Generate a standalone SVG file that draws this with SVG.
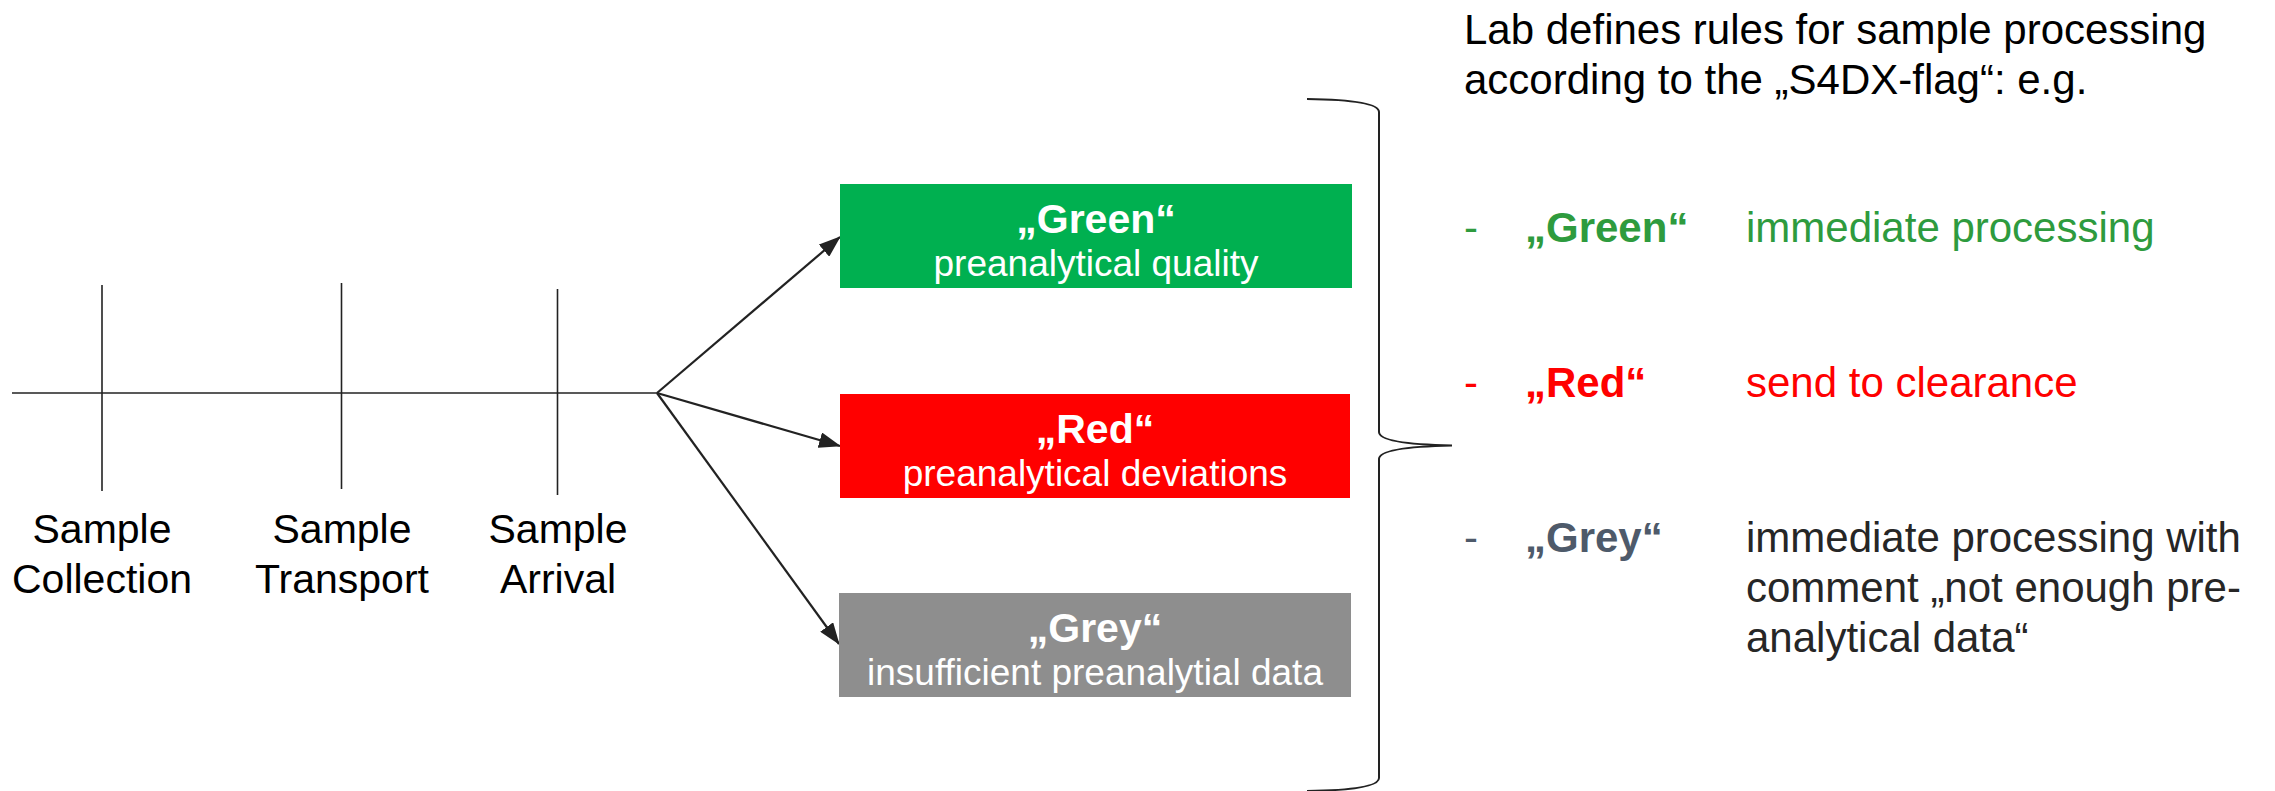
<svg xmlns="http://www.w3.org/2000/svg" width="2275" height="791" viewBox="0 0 2275 791">
<defs>
<marker id="ah" markerUnits="userSpaceOnUse" markerWidth="22" markerHeight="16" viewBox="0 0 22 16" refX="21" refY="8" orient="auto">
<path d="M0,0 L22,8 L0,16 Z" fill="#222"/>
</marker>
<style>
text{font-family:"Liberation Sans",Arial,sans-serif}
.lbl{font-size:41px;fill:#000;text-anchor:middle}
.bt{font-size:41px;font-weight:bold;fill:#fff;text-anchor:middle}
.bs{font-size:37px;fill:#fff;text-anchor:middle}
.rt{font-size:42px}
.tick{stroke:#222;stroke-width:1.6;fill:none}
.conn{stroke:#222;stroke-width:2.2;fill:none}
</style>
</defs>
<rect width="2275" height="791" fill="#fff"/>
<g id="timeline">
<line class="tick" x1="12" y1="393" x2="657" y2="393"/>
<line class="tick" x1="102" y1="285" x2="102" y2="491"/>
<line class="tick" x1="341.5" y1="283" x2="341.5" y2="489"/>
<line class="tick" x1="557.5" y1="289" x2="557.5" y2="495"/>
</g>
<g id="label-collection"><text class="lbl" x="102" y="543">Sample</text><text class="lbl" x="102" y="593">Collection</text></g>
<g id="label-transport"><text class="lbl" x="342" y="543">Sample</text><text class="lbl" x="342" y="593">Transport</text></g>
<g id="label-arrival"><text class="lbl" x="558" y="543">Sample</text><text class="lbl" x="558" y="593">Arrival</text></g>
<g id="connectors">
<line class="conn" x1="657" y1="393" x2="840" y2="237" marker-end="url(#ah)"/>
<line class="conn" x1="657" y1="393" x2="840" y2="446" marker-end="url(#ah)"/>
<line class="conn" x1="657" y1="393" x2="839" y2="644" marker-end="url(#ah)"/>
</g>
<g id="box-green">
<rect x="840" y="184" width="512" height="104" fill="#00B050"/>
<text class="bt" x="1096" y="233">„Green“</text>
<text class="bs" x="1096" y="276">preanalytical quality</text>
</g>
<g id="box-red">
<rect x="840" y="394" width="510" height="104" fill="#FF0000"/>
<text class="bt" x="1095" y="443">„Red“</text>
<text class="bs" x="1095" y="486">preanalytical deviations</text>
</g>
<g id="box-grey">
<rect x="839" y="593" width="512" height="104" fill="#8E8E8E"/>
<text class="bt" x="1095" y="642" fill="#f4f4f4">„Grey“</text>
<text class="bs" x="1095" y="685">insufficient preanalytial data</text>
</g>
<g id="brace">
<path d="M1307,99 Q1379,100 1379,112 L1379,432 Q1379,444 1452,445.5 Q1379,447 1379,459 L1379,778 Q1379,790 1307,791" fill="none" stroke="#222" stroke-width="2"/>
</g>
<g id="rules">
<text class="rt" x="1464" y="44" fill="#000">Lab defines rules for sample processing</text>
<text class="rt" x="1464" y="94" fill="#000">according to the „S4DX-flag“: e.g.</text>
<text class="rt" x="1464" y="242" fill="#2E9B3E">-</text>
<text class="rt" x="1525" y="242" fill="#2E9B3E" font-weight="bold">„Green“</text>
<text class="rt" x="1746" y="242" fill="#2E9B3E">immediate processing</text>
<text class="rt" x="1464" y="397" fill="#FF0000">-</text>
<text class="rt" x="1525" y="397" fill="#FF0000" font-weight="bold">„Red“</text>
<text class="rt" x="1746" y="397" fill="#FF0000">send to clearance</text>
<text class="rt" x="1464" y="552" fill="#4E5A6A">-</text>
<text class="rt" x="1525" y="552" fill="#4E5A6A" font-weight="bold">„Grey“</text>
<text class="rt" x="1746" y="552" fill="#262626">immediate processing with</text>
<text class="rt" x="1746" y="602" fill="#262626">comment „not enough pre-</text>
<text class="rt" x="1746" y="652" fill="#262626">analytical data“</text>
</g>
</svg>
